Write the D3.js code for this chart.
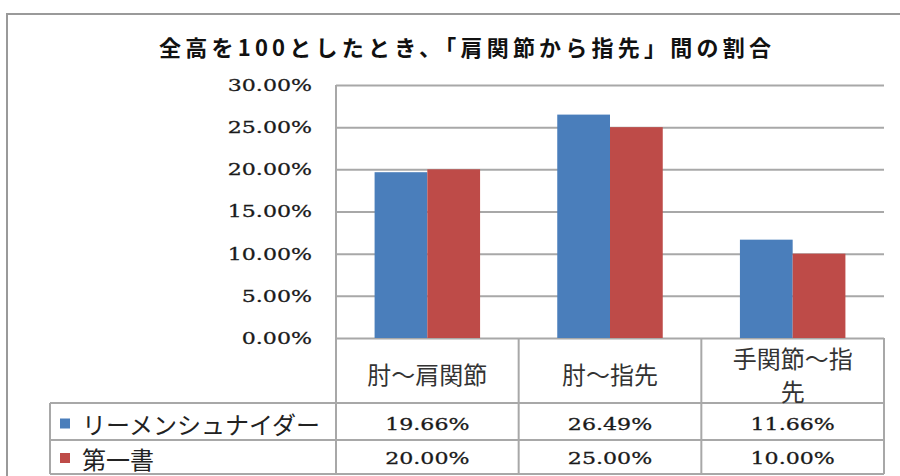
<!DOCTYPE html>
<html>
<head>
<meta charset="utf-8">
<script src="https://cdn.jsdelivr.net/npm/d3@7"></script>
<style>
  html, body { margin: 0; padding: 0; background: #fff; }
  svg { display: block; }
</style>
</head>
<body>
<svg id="chart" width="900" height="476"></svg>
<script>
// ---- data ----
const title = "全高を100としたとき、「肩関節から指先」間の割合";
const categories = ["肘〜肩関節", "肘〜指先", "手関節〜指先"];
const categoryLines = [["肘〜肩関節"], ["肘〜指先"], ["手関節〜指", "先"]];
const seriesNames = ["リーメンシュナイダー", "第一書"];
const seriesRiemenschneider = [19.66, 26.49, 11.66];
const seriesDaiichisho = [20.00, 25.00, 10.00];
const yTicks = [0, 5, 10, 15, 20, 25, 30];
const seriesColors = ["#4A7EBB", "#BE4B48"];

// ---- layout ----
const svg = d3.select("#chart");
const plotL = 336, plotR = 884, plotT = 85, plotB = 338;
const tableL = 50, row1T = 403, row2T = 440, tableB = 474;
const gridColor = "#A8A8A8";
const numFont = "'DejaVu Serif', 'Liberation Serif', serif";
const jpFont = "'Noto Sans CJK JP', 'Noto Sans', sans-serif";

const seriesValues = [seriesRiemenschneider, seriesDaiichisho];

const x = d3.scaleBand().domain(categories).range([plotL, plotR])
  .paddingInner(0.4225).paddingOuter(0.21125);
const x1 = d3.scaleBand().domain(seriesNames).range([0, x.bandwidth()]).padding(0);
const y = d3.scaleLinear().domain([0, 30]).range([plotB, plotT]);

const fmt = d => d.toFixed(2) + "%";

// outer frame
svg.append("rect").attr("x", 7).attr("y", 14).attr("width", 900).attr("height", 470)
  .attr("fill", "#fff").attr("stroke", "#9a9a9a").attr("stroke-width", 2);

// title
svg.append("text").attr("x", 465).attr("y", 46).attr("text-anchor", "middle")
  .attr("dominant-baseline", "central")
  .attr("font-family", jpFont).attr("font-weight", "bold").attr("font-size", 22)
  .attr("fill", "#111").attr("textLength", 612).attr("lengthAdjust", "spacing")
  .text(title);

// y axis with gridlines
const yAxis = d3.axisLeft(y).tickValues(yTicks).tickFormat(fmt)
  .tickSize(-(plotR - plotL)).tickPadding(24);
const ga = svg.append("g").attr("transform", `translate(${plotL},0)`).call(yAxis);
ga.select(".domain").remove();
ga.selectAll(".tick line").attr("stroke", gridColor).attr("stroke-width", 2);
ga.selectAll(".tick text").attr("font-family", numFont).attr("font-size", 17)
  .attr("fill", "#1a1a1a").attr("stroke", "#1a1a1a").attr("stroke-width", 0.3);

function stretch(sel, k) {
  sel.each(function () {
    const len = this.getComputedTextLength();
    d3.select(this).attr("textLength", len * k).attr("lengthAdjust", "spacingAndGlyphs");
  });
}
stretch(ga.selectAll(".tick text"), 1.3);

// bars
const groups = svg.append("g").selectAll("g").data(categories).join("g")
  .attr("transform", c => `translate(${x(c)},0)`);
groups.selectAll("rect")
  .data((c, i) => seriesNames.map((s, j) => ({ s, v: seriesValues[j][i], j })))
  .join("rect")
  .attr("x", d => x1(d.s)).attr("width", x1.bandwidth())
  .attr("y", d => y(d.v)).attr("height", d => y(0) - y(d.v))
  .attr("fill", d => seriesColors[d.j]);

// data table lines
const step = x.step();
const bounds = categories.map(c => x(c) - step * x.paddingInner() / 2);
bounds.push(bounds[bounds.length - 1] + step);
const lines = svg.append("g").attr("stroke", gridColor).attr("stroke-width", 2);
lines.append("line").attr("x1", plotL).attr("x2", plotL).attr("y1", plotT).attr("y2", tableB);
bounds.slice(1).forEach(b => {
  lines.append("line").attr("x1", b).attr("x2", b).attr("y1", plotB).attr("y2", tableB);
});
lines.append("line").attr("x1", tableL).attr("x2", tableL).attr("y1", row1T).attr("y2", tableB);
[row1T, row2T, tableB].forEach(yy => {
  lines.append("line").attr("x1", tableL).attr("x2", bounds[bounds.length - 1]).attr("y1", yy).attr("y2", yy);
});

// category labels
categories.forEach((c, i) => {
  const cx = x(c) + x.bandwidth() / 2;
  const ls = categoryLines[i];
  const centerY = (plotB + row1T) / 2 + 3;
  const lh = 33;
  ls.forEach((t, k) => {
    svg.append("text").attr("x", cx).attr("y", centerY + (k - (ls.length - 1) / 2) * lh)
      .attr("text-anchor", "middle").attr("dominant-baseline", "central")
      .attr("font-family", jpFont).attr("font-size", 24).attr("fill", "#333")
      .text(t);
  });
});

// legend + table values
const rowCenters = [(row1T + row2T) / 2 + 2, (row2T + tableB) / 2 + 1];
seriesNames.forEach((s, j) => {
  const cy = rowCenters[j];
  svg.append("rect").attr("x", 60).attr("y", cy - 5).attr("width", 10).attr("height", 10)
    .attr("fill", seriesColors[j]);
  svg.append("text").attr("x", 82).attr("y", cy).attr("dominant-baseline", "central")
    .attr("font-family", jpFont).attr("font-size", 24).attr("fill", "#222")
    .text(s);
  const vt = svg.append("g").selectAll("text").data(categories).join("text")
    .attr("x", c => x(c) + x.bandwidth() / 2).attr("y", cy)
    .attr("text-anchor", "middle").attr("dominant-baseline", "central")
    .attr("font-family", numFont).attr("font-size", 17).attr("fill", "#1a1a1a")
    .attr("stroke", "#1a1a1a").attr("stroke-width", 0.3)
    .text((c, i) => fmt(seriesValues[j][i]));
  stretch(vt, 1.3);
});
</script>
</body>
</html>
